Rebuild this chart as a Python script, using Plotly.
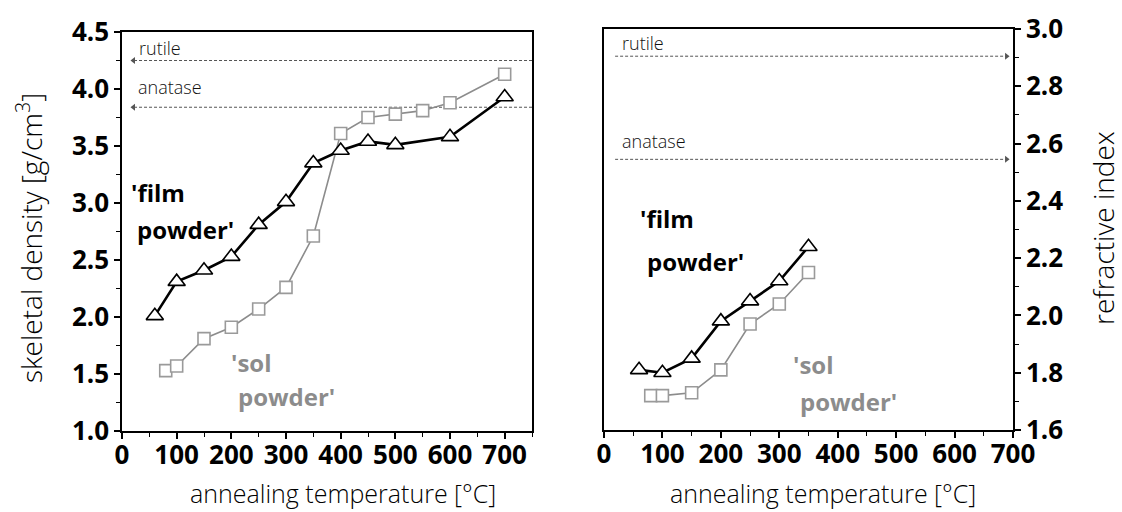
import plotly.graph_objects as go

# ---------------- data ----------------
film_T_left = [60, 100, 150, 200, 250, 300, 350, 400, 450, 500, 600, 700]
film_rho = [2.01, 2.31, 2.41, 2.53, 2.81, 3.01, 3.35, 3.46, 3.54, 3.51, 3.58, 3.93]
sol_T_left = [80, 100, 150, 200, 250, 300, 350, 400, 450, 500, 550, 600, 700]
sol_rho = [1.53, 1.57, 1.81, 1.91, 2.07, 2.26, 2.71, 3.61, 3.75, 3.78, 3.81, 3.88, 4.13]

film_T_right = [60, 100, 150, 200, 250, 300, 350]
film_n = [1.81, 1.80, 1.85, 1.98, 2.05, 2.12, 2.24]
sol_T_right = [80, 100, 150, 200, 250, 300, 350]
sol_n = [1.72, 1.72, 1.73, 1.81, 1.97, 2.04, 2.15]

ref_names = ["rutile", "anatase"]
ref_density = [4.25, 3.84]
ref_index = [2.905, 2.545]

x_ticks = [0, 100, 200, 300, 400, 500, 600, 700]

# ---------------- styles ----------------
FONT = "Open Sans"
BLACK = "#000000"
GRAY = "#8c8c8c"
SQ_GRAY = "#9a9a9a"
DASH_C = "#555555"

fig = go.Figure()


def add_series(xs, ys, xa, ya, kind):
    if kind == "film":
        fig.add_trace(go.Scatter(
            x=xs, y=ys, xaxis=xa, yaxis=ya, mode="lines+markers",
            line=dict(color=BLACK, width=2.6),
            marker=dict(symbol="triangle-up", size=15, color="white",
                        line=dict(color=BLACK, width=1.6)),
            showlegend=False, hoverinfo="skip"))
    else:
        fig.add_trace(go.Scatter(
            x=xs, y=ys, xaxis=xa, yaxis=ya, mode="lines+markers",
            line=dict(color=GRAY, width=1.6),
            marker=dict(symbol="square", size=12, color="white",
                        line=dict(color=SQ_GRAY, width=1.6)),
            showlegend=False, hoverinfo="skip"))


# reference dashed lines with arrowheads
for v in ref_density:
    fig.add_trace(go.Scatter(x=[22, 750], y=[v, v], xaxis="x", yaxis="y", mode="lines",
                             line=dict(color=DASH_C, width=1, dash="3px,2px"),
                             showlegend=False, hoverinfo="skip"))
    fig.add_trace(go.Scatter(x=[21], y=[v], xaxis="x", yaxis="y", mode="markers",
                             marker=dict(symbol="triangle-left", size=6, color=DASH_C,
                                         line=dict(width=0)),
                             showlegend=False, hoverinfo="skip"))
for v in ref_index:
    fig.add_trace(go.Scatter(x=[19, 688], y=[v, v], xaxis="x2", yaxis="y2", mode="lines",
                             line=dict(color=DASH_C, width=1, dash="3px,2px"),
                             showlegend=False, hoverinfo="skip"))
    fig.add_trace(go.Scatter(x=[689], y=[v], xaxis="x2", yaxis="y2", mode="markers",
                             marker=dict(symbol="triangle-right", size=6, color=DASH_C,
                                         line=dict(width=0)),
                             showlegend=False, hoverinfo="skip"))

add_series(sol_T_left, sol_rho, "x", "y", "sol")
add_series(film_T_left, film_rho, "x", "y", "film")
add_series(sol_T_right, sol_n, "x2", "y2", "sol")
add_series(film_T_right, film_n, "x2", "y2", "film")

annotations = []


def txt(x, y, xr, yr, t, size, color, weight=400):
    annotations.append(dict(x=x, y=y, xref=xr, yref=yr, text=t, showarrow=False,
                            xanchor="left", yanchor="middle",
                            font=dict(family=FONT, size=size, color=color, weight=weight)))


# reference labels
txt(27, 4.36, "x", "y", ref_names[0], 18, "#111", 300)
txt(25, 4.02, "x", "y", ref_names[1], 18, "#111", 300)
txt(27, 2.95, "x2", "y2", ref_names[0], 18, "#111", 300)
txt(27, 2.61, "x2", "y2", ref_names[1], 18, "#111", 300)

# series labels
txt(12, 3.09, "x", "y", "'film", 24, BLACK, 700)
txt(24, 2.77, "x", "y", "powder'", 24, BLACK, 700)
txt(196, 1.60, "x", "y", "'sol", 24, GRAY, 700)
txt(208, 1.30, "x", "y", "powder'", 24, GRAY, 700)
txt(58, 2.34, "x2", "y2", "'film", 24, BLACK, 700)
txt(70, 2.19, "x2", "y2", "powder'", 24, BLACK, 700)
txt(320, 1.83, "x2", "y2", "'sol", 24, GRAY, 700)
txt(332, 1.70, "x2", "y2", "powder'", 24, GRAY, 700)

# axis titles as annotations
xt_font = dict(family=FONT, size=25, color="#000", weight=300)
yt_font = dict(family=FONT, size=28, color="#000", weight=300)
annotations += [
    dict(x=343 / 1122, y=1 - 493 / 512, xref="paper", yref="paper",
         text="annealing temperature [°C]", showarrow=False,
         xanchor="center", yanchor="middle", font=xt_font),
    dict(x=823 / 1122, y=1 - 493 / 512, xref="paper", yref="paper",
         text="annealing temperature [°C]", showarrow=False,
         xanchor="center", yanchor="middle", font=xt_font),
    dict(x=29 / 1122, y=1 - 238 / 512, xref="paper", yref="paper",
         text="skeletal density [g/cm<sup>3</sup>]", showarrow=False, textangle=-90,
         xanchor="center", yanchor="middle", font=yt_font),
    dict(x=1103 / 1122, y=1 - 228 / 512, xref="paper", yref="paper",
         text="refractive index", showarrow=False, textangle=-90,
         xanchor="center", yanchor="middle", font=yt_font),
]

tick_font = dict(family=FONT, size=26, color=BLACK, weight=700)

common_x = dict(showline=True, linecolor=BLACK, linewidth=1.5, mirror=True,
                ticks="outside", ticklen=6, tickwidth=1.5, tickcolor=BLACK,
                tickvals=x_ticks, tickfont=tick_font, showgrid=False, zeroline=False,
                automargin=False, ticklabelstandoff=-6,
                minor=dict(dtick=50, tick0=0, ticks="outside", ticklen=4, tickwidth=1.2,
                           tickcolor=BLACK, showgrid=False),
                fixedrange=True)

fig.update_layout(
    width=1122, height=512,
    autosize=False,
    margin=dict(l=0, r=0, t=0, b=0, pad=0, autoexpand=False),
    paper_bgcolor="white", plot_bgcolor="white",
    font=dict(family=FONT),
    showlegend=False,
    xaxis=dict(domain=[122 / 1122, 532 / 1122], range=[0, 750], anchor="y", **common_x),
    yaxis=dict(domain=[1 - 431 / 512, 1 - 32 / 512], range=[1.0, 4.5], anchor="x",
               showline=True, linecolor=BLACK, linewidth=1.5, mirror=True,
               ticks="outside", ticklen=6, tickwidth=1.5, tickcolor=BLACK,
               dtick=0.5, tick0=1.0, tickformat=".1f", tickfont=tick_font,
               showgrid=False, zeroline=False, automargin=False,
               minor=dict(dtick=0.25, tick0=1.0, ticks="outside", ticklen=4, tickwidth=1.2,
                          tickcolor=BLACK, showgrid=False)),
    xaxis2=dict(domain=[604 / 1122, 1013 / 1122], range=[0, 700], anchor="y2", **common_x),
    yaxis2=dict(domain=[1 - 430 / 512, 1 - 29 / 512], range=[1.6, 3.0], anchor="x2",
                side="right",
                showline=True, linecolor=BLACK, linewidth=1.5, mirror=True,
                ticks="outside", ticklen=6, tickwidth=1.5, tickcolor=BLACK,
                dtick=0.2, tick0=1.6, tickformat=".1f", tickfont=tick_font,
                showgrid=False, zeroline=False, automargin=False,
                minor=dict(dtick=0.1, tick0=1.6, ticks="outside", ticklen=4, tickwidth=1.2,
                           tickcolor=BLACK, showgrid=False)),
    annotations=annotations,
)

fig.write_html("out.html")
